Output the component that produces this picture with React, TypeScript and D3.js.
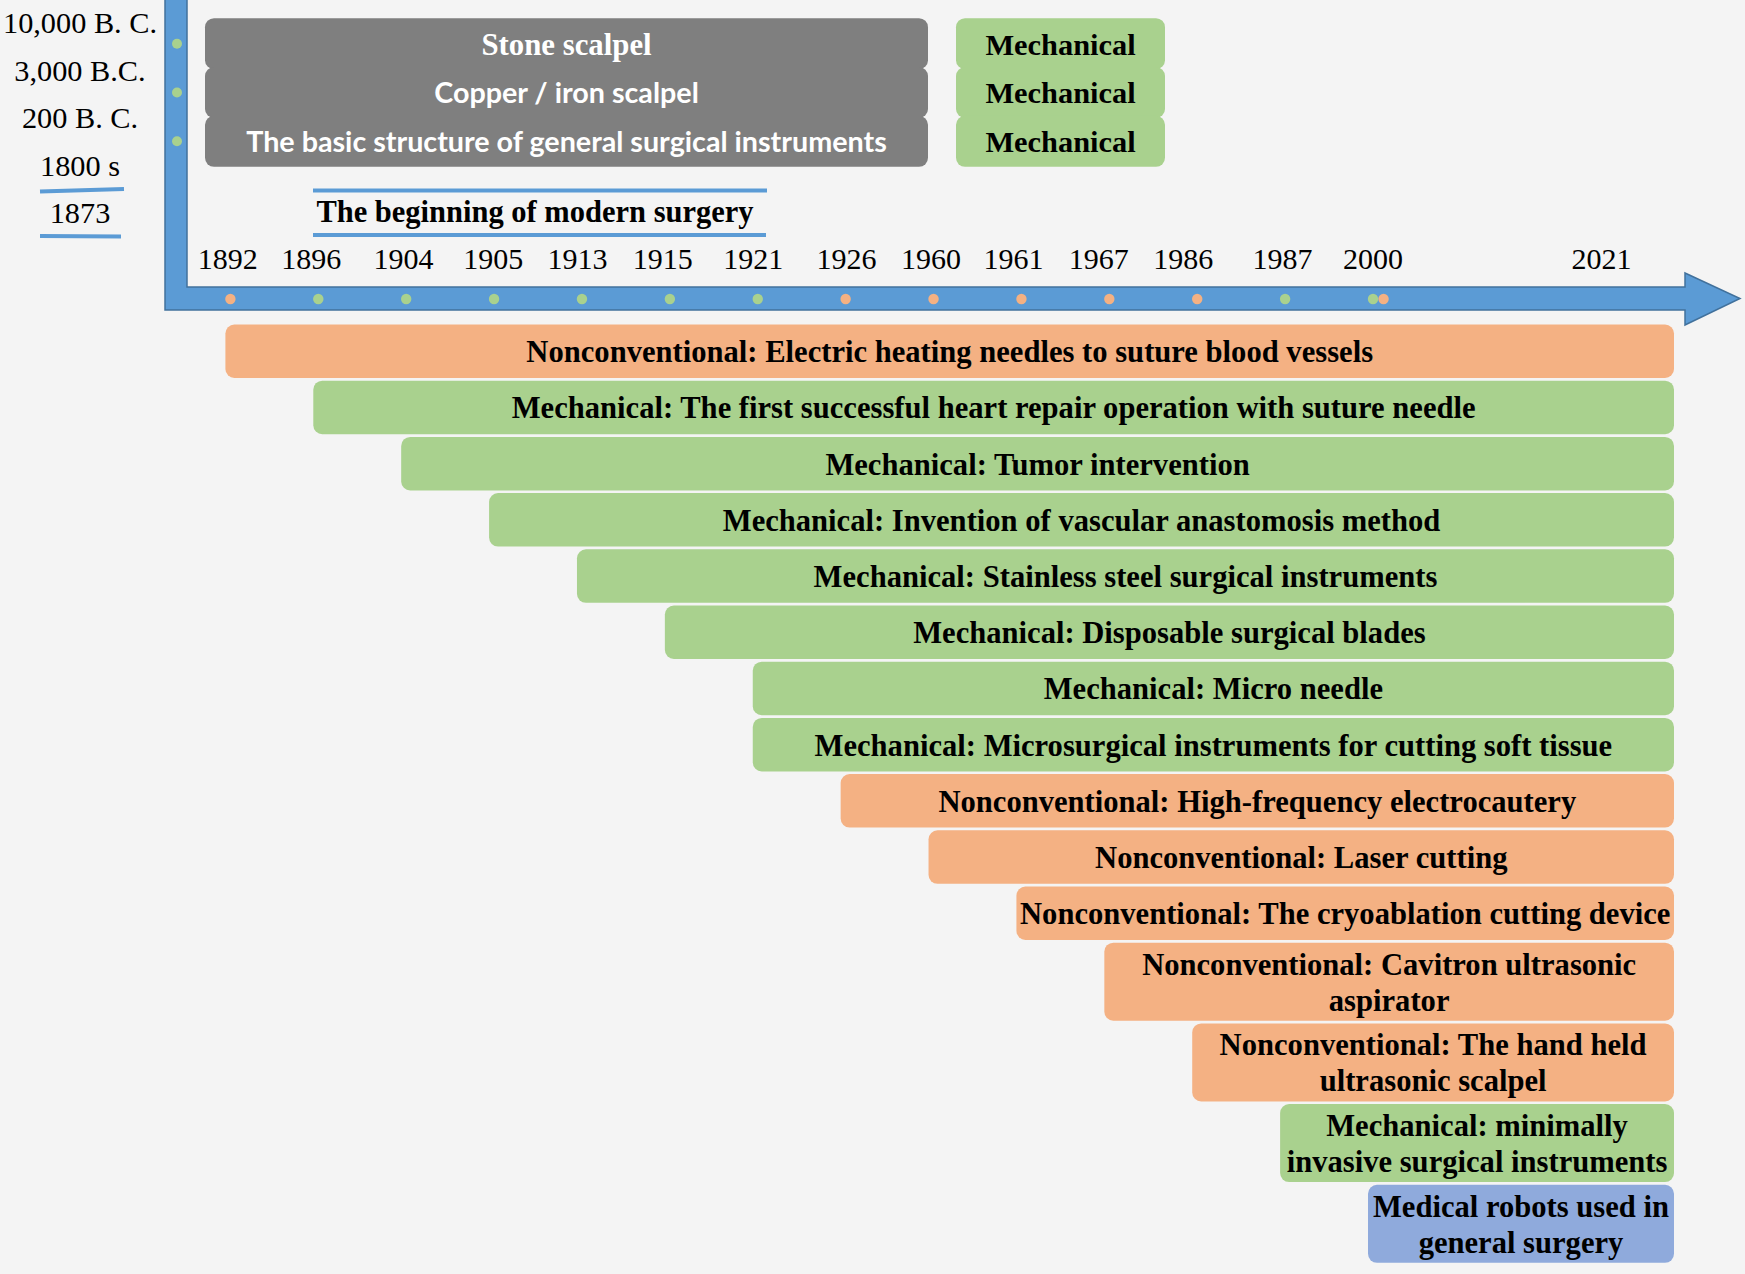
import React from 'react';
import * as d3 from 'd3';

const W = 1745;
const H = 1274;

// ---- data ----
const eraLabels = ['10,000 B. C.', '3,000 B.C.', '200 B. C.', '1800 s', '1873'];
const earlyItems = ['Stone scalpel', 'Copper / iron scalpel', 'The basic structure of general surgical instruments'];
const earlyTypes = ['Mechanical', 'Mechanical', 'Mechanical'];
const modernTitle = 'The beginning of modern surgery';

const yearLabels = ['1892', '1896', '1904', '1905', '1913', '1915', '1921', '1926', '1960', '1961', '1967', '1986', '1987', '2000', '2021'];
const yearSlots = [-0.03, 0.92, 1.97, 2.99, 3.95, 4.92, 5.95, 7.01, 7.97, 8.91, 9.88, 10.84, 11.97, 13.0, 15.6];

const dotSlots = [0, 1, 2, 3, 4, 5, 6, 7, 8, 9, 10, 11, 12, 13, 13.12];
const dotTypes = ['N', 'M', 'M', 'M', 'M', 'M', 'M', 'N', 'N', 'N', 'N', 'N', 'M', 'M', 'N'];

const barLabels = [
  'Nonconventional: Electric heating needles to suture blood vessels',
  'Mechanical: The first successful heart repair operation with suture needle',
  'Mechanical: Tumor intervention',
  'Mechanical: Invention of vascular anastomosis method',
  'Mechanical: Stainless steel surgical instruments',
  'Mechanical: Disposable surgical blades',
  'Mechanical: Micro needle',
  'Mechanical: Microsurgical instruments for cutting soft tissue',
  'Nonconventional: High-frequency electrocautery',
  'Nonconventional: Laser cutting',
  'Nonconventional: The cryoablation cutting device',
  'Nonconventional: Cavitron ultrasonic\naspirator',
  'Nonconventional: The hand held\nultrasonic scalpel',
  'Mechanical: minimally\ninvasive surgical instruments',
  'Medical robots used in\ngeneral surgery',
];
const barTypes = ['N', 'M', 'M', 'M', 'M', 'M', 'M', 'M', 'N', 'N', 'N', 'N', 'N', 'M', 'R'];
const barSlots = [0, 1, 2, 3, 4, 5, 6, 6, 7, 8, 9, 10, 11, 12, 13];

// ---- styles ----
const COLORS: Record<string, string> = {
  M: '#a9d18e',
  N: '#f4b183',
  R: '#8faadc',
  Mechanical: '#a9d18e',
};
const BG = '#f4f4f4';
const AXIS = '#5b9bd5';
const AXIS_EDGE = '#41719c';
const GRAY = '#7f7f7f';
const SERIF = '"Liberation Serif", "Times New Roman", serif';
const SANS = 'Lato, "Open Sans", sans-serif';

export default function App() {
  const x = d3.scaleLinear().domain([0, 13]).range([230.4, 1373]);
  const eraY = d3.scaleLinear().domain([0, 4]).range([33, 223]);
  // row centres of the early (pre-modern) entries
  const rowC = d3.scaleLinear().domain([0, 2]).range([43.7, 141.3]);
  const rowH = 51;
  const barEnd = 1674;

  // bar vertical layout
  const bars: { top: number; h: number; lines: string[]; x0: number; type: string }[] = [];
  let top = 324.5;
  barLabels.forEach((lab, i) => {
    const lines = lab.split('\n');
    const h = lines.length === 1 ? 53.5 : 78;
    bars.push({ top, h, lines, x0: x(barSlots[i]) - 5, type: barTypes[i] });
    top += h + 2.7;
  });

  const axisY0 = 287;
  const axisY1 = 310;
  const vx0 = 165;
  const vx1 = 187;
  const headX = 1685;
  const tipX = 1740;
  const axisPath = d3.path();
  axisPath.moveTo(vx0, -2);
  axisPath.lineTo(vx1, -2);
  axisPath.lineTo(vx1, axisY0);
  axisPath.lineTo(headX, axisY0);
  axisPath.lineTo(headX, 273);
  axisPath.lineTo(tipX, (axisY0 + axisY1) / 2);
  axisPath.lineTo(headX, 325);
  axisPath.lineTo(headX, axisY1);
  axisPath.lineTo(vx0, axisY1);
  axisPath.closePath();

  return (
    <svg
      width={W}
      height={H}
      viewBox={`0 0 ${W} ${H}`}
      style={{ position: 'absolute', left: 0, top: 0, display: 'block' }}
    >
      <rect x={0} y={0} width={W} height={H} fill={BG} />

      {/* era labels */}
      {eraLabels.map((t, i) => (
        <text key={t} x={80} y={eraY(i)} textAnchor="middle" fontFamily={SERIF} fontSize={30.3} fill="#000">
          {t}
        </text>
      ))}
      <line x1={40} y1={191.5} x2={124} y2={189} stroke={AXIS} strokeWidth={4} />
      <line x1={40} y1={236} x2={121} y2={236.5} stroke={AXIS} strokeWidth={4} />

      {/* axis */}
      <path d={axisPath.toString()} fill={AXIS} stroke={AXIS_EDGE} strokeWidth={1.5} />

      {/* early rows */}
      {earlyItems.map((t, i) => (
        <g key={t}>
          <rect x={205} y={rowC(i) - 25.5} width={723} height={rowH} rx={9} fill={GRAY} />
          <rect x={956} y={rowC(i) - 25.5} width={209} height={rowH} rx={9} fill={COLORS[earlyTypes[i]]} />
        </g>
      ))}
      {earlyItems.map((t, i) => (
        <g key={t + '-t'}>
          <text
            x={566.5}
            y={rowC(i)}
            dy="0.36em"
            textAnchor="middle"
            fontFamily={i === 0 ? SERIF : SANS}
            fontWeight="bold"
            fontSize={i === 0 ? 30.8 : 28.7}
            fill="#fff"
          >
            {t}
          </text>
          <text
            x={1060.5}
            y={rowC(i)}
            dy="0.36em"
            textAnchor="middle"
            fontFamily={SERIF}
            fontWeight="bold"
            fontSize={30.4}
            fill="#000"
          >
            {earlyTypes[i]}
          </text>
          <circle cx={177} cy={rowC(i)} r={5} fill={COLORS.M} />
        </g>
      ))}

      {/* modern surgery title */}
      <line x1={313} y1={190.5} x2={767} y2={190.5} stroke={AXIS} strokeWidth={4} />
      <line x1={313} y1={235} x2={766} y2={235} stroke={AXIS} strokeWidth={4} />
      <text x={535} y={222} textAnchor="middle" fontFamily={SERIF} fontWeight="bold" fontSize={30.5} fill="#000">
        {modernTitle}
      </text>

      {/* year labels */}
      {yearLabels.map((t, i) => (
        <text key={t} x={x(yearSlots[i])} y={269} textAnchor="middle" fontFamily={SERIF} fontSize={30} fill="#000">
          {t}
        </text>
      ))}

      {/* dots */}
      {dotSlots.map((s, i) => (
        <circle key={i} cx={x(s)} cy={299} r={5.2} fill={COLORS[dotTypes[i]]} />
      ))}

      {/* bars */}
      {bars.map((b, i) => {
        const cx = (b.x0 + barEnd) / 2;
        const cy = b.top + b.h / 2;
        const lh = 36;
        return (
          <g key={i}>
            <rect x={b.x0} y={b.top} width={barEnd - b.x0} height={b.h} rx={9} fill={COLORS[b.type]} />
            {b.lines.map((ln, j) => (
              <text
                key={j}
                x={cx}
                y={cy + (j - (b.lines.length - 1) / 2) * lh}
                dy="0.36em"
                textAnchor="middle"
                fontFamily={SERIF}
                fontWeight="bold"
                fontSize={30.6}
                fill="#000"
              >
                {ln}
              </text>
            ))}
          </g>
        );
      })}
    </svg>
  );
}
